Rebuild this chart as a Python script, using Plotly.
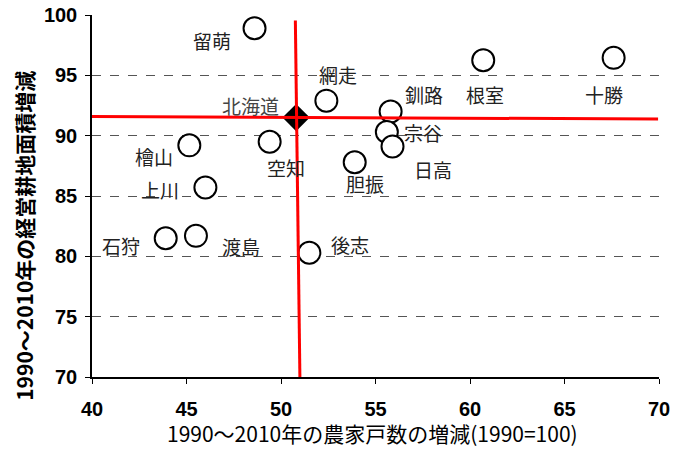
import plotly.graph_objects as go

# ---- data ----
regions = ["留萌", "網走", "根室", "十勝", "釧路", "宗谷", "日高", "檜山",
           "空知", "胆振", "上川", "石狩", "渡島", "後志"]
farm_households = [48.6, 52.4, 60.7, 67.6, 55.8, 55.6, 55.9, 45.15,
                   49.4, 53.9, 46.0, 43.9, 45.5, 51.5]
farmland_area = [98.9, 92.9, 96.25, 96.45, 92.0, 90.3, 89.1, 89.2,
                 89.5, 87.8, 85.7, 81.5, 81.7, 80.3]
hokkaido_name = "北海道"
hokkaido_x = 50.8
hokkaido_y = 91.5

x_ticks = [40, 45, 50, 55, 60, 65, 70]
y_ticks = [70, 75, 80, 85, 90, 95, 100]

x_title = "1990～2010年の農家戸数の増減(1990=100)"
y_title = "1990～2010年の経営耕地面積増減"

# ---- label offsets (pixels, dx right, dy down) ----
label_offsets = [(-43, 12), (12, -26), (2, 34), (-10, 37), (33, -17), (36, 0),
                 (40, 23), (-35, 11), (16, 26), (10, 21), (-45, 2), (-45, 7),
                 (45, 11), (41, -8)]
hokkaido_offset = (-46, -12)

JP = "Noto Sans CJK JP"
fig = go.Figure()

fig.add_trace(go.Scatter(
    x=farm_households, y=farmland_area, mode="markers",
    marker=dict(symbol="circle", size=22, color="white",
                line=dict(color="black", width=2)),
    cliponaxis=False, showlegend=False, hoverinfo="skip"))

fig.add_trace(go.Scatter(
    x=[hokkaido_x], y=[hokkaido_y], mode="markers",
    marker=dict(symbol="diamond", size=21, color="black",
                line=dict(color="black", width=0)),
    cliponaxis=False, showlegend=False, hoverinfo="skip"))

# red reference lines through the Hokkaido point
fig.add_shape(type="line", xref="x", yref="y",
              x0=hokkaido_x - 0.04, y0=99.55, x1=hokkaido_x + 0.2, y1=70.0,
              line=dict(color="#ff0000", width=3), layer="above")
fig.add_shape(type="line", xref="x", yref="y",
              x0=40, y0=hokkaido_y + 0.08, x1=69.95, y1=hokkaido_y - 0.12,
              line=dict(color="#ff0000", width=3), layer="above")

annotations = []
for name, xv, yv, (dx, dy) in zip(regions, farm_households, farmland_area, label_offsets):
    annotations.append(dict(x=xv, y=yv, xref="x", yref="y", text=name,
                            showarrow=False, xshift=dx, yshift=-dy,
                            font=dict(family=JP, size=19, color="#222")))
annotations.append(dict(x=hokkaido_x, y=hokkaido_y, xref="x", yref="y",
                        text=hokkaido_name, showarrow=False,
                        xshift=hokkaido_offset[0], yshift=-hokkaido_offset[1],
                        font=dict(family=JP, size=19, color="#444")))
annotations.append(dict(x=0.495, y=-0.155, xref="paper", yref="paper",
                        text=x_title, showarrow=False, yanchor="middle",
                        font=dict(family=JP, size=21, color="black")))
annotations.append(dict(x=-0.12, y=0.39, xref="paper", yref="paper",
                        text="<b>" + y_title + "</b>", showarrow=False,
                        textangle=-90, xanchor="center", yanchor="middle",
                        font=dict(family=JP, size=21, color="black")))

fig.update_layout(
    width=684, height=450,
    margin=dict(l=92, r=25, t=15, b=73),
    paper_bgcolor="white", plot_bgcolor="white",
    annotations=annotations,
    showlegend=False,
)
fig.update_xaxes(range=[40, 70], tickvals=x_ticks, ticktext=[str(v) for v in x_ticks],
                 showgrid=False, zeroline=False, showline=True, linecolor="black",
                 linewidth=1.5, ticks="outside", ticklen=5, tickcolor="black",
                 ticklabelstandoff=8, automargin=False,
                 tickfont=dict(family="Liberation Sans", size=20, color="black", weight="bold"))
fig.update_yaxes(range=[70, 100], tickvals=y_ticks, ticktext=[str(v) for v in y_ticks],
                 showgrid=True, gridcolor="#555", gridwidth=1, griddash="dash",
                 zeroline=False, showline=True, linecolor="black", linewidth=1.5,
                 ticks="outside", ticklen=5, tickcolor="black", ticklabelstandoff=4,
                 automargin=False,
                 tickfont=dict(family="Liberation Sans", size=20, color="black", weight="bold"))

fig.write_html("out.html", config={"displayModeBar": False},
               post_script="document.body.style.margin='0';document.body.style.overflow='hidden';")
